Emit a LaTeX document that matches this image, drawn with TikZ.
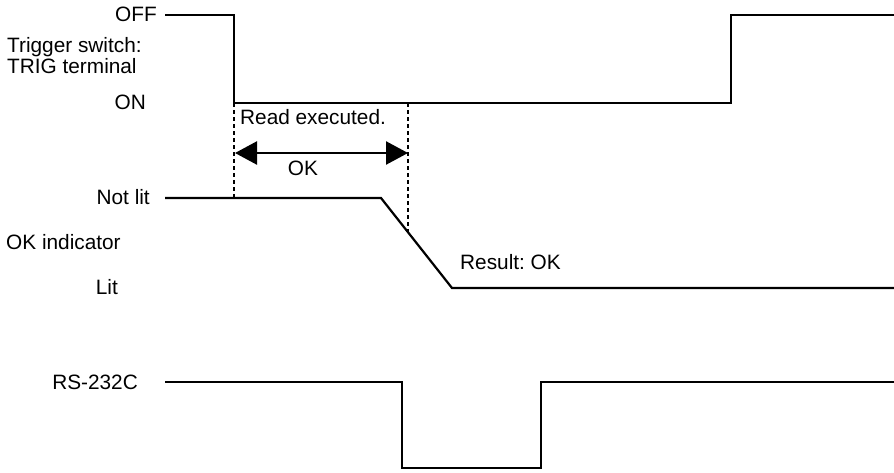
\documentclass[tikz,border=0pt]{standalone}
\usepackage{fontspec}
\setmainfont{Liberation Sans}
\usetikzlibrary{arrows.meta}
\frenchspacing
\begin{document}
\begin{tikzpicture}[x=1pt,y=-1pt,line join=miter,
	>={Triangle[length=22pt,width=23pt]},
	lbl/.style={inner sep=0pt,font=\fontsize{20.8}{21}\selectfont}]
	\useasboundingbox (0,0) rectangle (894,472);
	% labels
	\node[lbl,anchor=east] (off) at (157,14) {OFF};
	\node[lbl,anchor=west,align=left] (trig) at (7,56) {Trigger switch:\\TRIG terminal};
	\node[lbl,anchor=east] (on) at (146,102) {ON};
	\node[lbl,anchor=east] (notlit) at (150,197) {Not lit};
	\node[lbl,anchor=west] (okind) at (6,242) {OK indicator};
	\node[lbl,anchor=east] (lit) at (118,287) {Lit};
	\node[lbl,anchor=east] (rs) at (138,382) {RS-232C};
	% signals
	\draw[line width=2.2pt] (165,15) -- (234,15) -- (234,103) -- (731,103) -- (731,15) -- (894,15);
	\draw[line width=2.2pt] (165,198) -- (381,198) -- (452,288) -- (894,288);
	\draw[line width=2.2pt] (165,382) -- (402,382) -- (402,468) -- (541,468) -- (541,382) -- (894,382);
	% read window
	\draw[line width=1.6pt,dash pattern=on 4pt off 3pt] (234,103) -- (234,198);
	\draw[line width=1.6pt,dash pattern=on 4pt off 3pt] (408,103) -- (408,232);
	\node[lbl,anchor=west] (read) at (240,117) {Read executed.};
	\draw[<->,line width=2.4pt] (235,153) -- (408,153);
	\node[lbl] (ok) at (303,168) {OK};
	\node[lbl,anchor=west] (result) at (460,262) {Result: OK};
\end{tikzpicture}
\end{document}
